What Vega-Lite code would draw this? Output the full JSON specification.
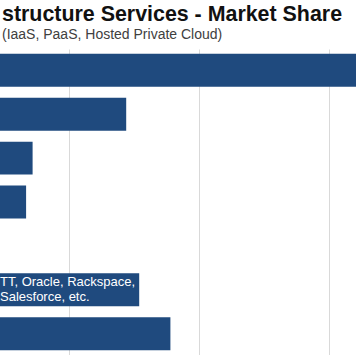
{
  "$schema": "https://vega.github.io/schema/vega-lite/v6.json",
  "width": 356,
  "height": 306,
  "padding": {"left": 0, "right": 0, "top": 3, "bottom": 0},
  "background": "white",
  "title": {
    "text": "structure Services - Market Share",
    "subtitle": "(IaaS, PaaS, Hosted Private Cloud)",
    "anchor": "start",
    "frame": "group",
    "font": "Liberation Sans",
    "fontSize": 21.4,
    "fontWeight": "bold",
    "color": "#111111",
    "subtitleFont": "Liberation Sans",
    "subtitleFontSize": 14,
    "subtitleColor": "#404040",
    "subtitlePadding": 3,
    "offset": 7,
    "dx": 2
  },
  "config": {"view": {"stroke": null}},
  "data": {
    "values": [
      {"company": "AWS", "share": 35},
      {"company": "Microsoft", "share": 14.4},
      {"company": "IBM", "share": 7.2},
      {"company": "Google", "share": 6.7},
      {"company": "Salesforce", "share": 4},
      {"company": "Next 20", "share": 15.4, "label": "TT, Oracle, Rackspace,\nSalesforce, etc."},
      {"company": "Rest of Market", "share": 17.8}
    ]
  },
  "encoding": {
    "y": {
      "field": "company",
      "type": "nominal",
      "sort": ["AWS", "Microsoft", "IBM", "Google", "Salesforce", "Next 20", "Rest of Market"],
      "axis": null,
      "scale": {"paddingInner": 0.25, "paddingOuter": 0.11}
    }
  },
  "layer": [
    {
      "mark": {"type": "bar", "color": "#1f4a7e", "clip": true},
      "encoding": {
        "x": {
          "field": "share",
          "type": "quantitative",
          "scale": {"domain": [4.6923, 32.0769], "zero": false, "nice": false},
          "axis": {
            "values": [10, 20, 30],
            "grid": true,
            "gridColor": "#d9d9d9",
            "gridWidth": 1,
            "labels": false,
            "ticks": false,
            "domain": false,
            "title": null
          }
        }
      }
    },
    {
      "transform": [{"filter": "datum.label"}],
      "mark": {
        "type": "text",
        "align": "left",
        "baseline": "middle",
        "color": "white",
        "font": "Liberation Sans",
        "fontSize": 13,
        "lineBreak": "\n",
        "lineHeight": 15,
        "dy": -8,
        "clip": true
      },
      "encoding": {
        "x": {"datum": 4.6923},
        "text": {"field": "label"}
      }
    }
  ]
}
